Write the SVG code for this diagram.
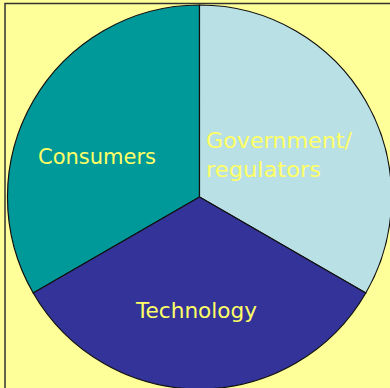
<svg xmlns="http://www.w3.org/2000/svg" width="390" height="388" viewBox="0 0 390 388">
<style>
.lbl{font-family:"Comic Sans MS","DejaVu Sans",sans-serif;font-size:21px;fill:#FFFF66}
.sec{stroke:#111;stroke-width:1.2;stroke-linejoin:round}
</style>
<rect x="0" y="0" width="390" height="388" fill="#FFFF99"/>
<rect x="5" y="3.5" width="400" height="400" fill="none" stroke="#333" stroke-width="1.5"/>
<g id="consumers">
<path class="sec" d="M199.5,197 L199.5,5 A192,192 0 0 0 33.2,293 Z" fill="#009999"/>
<text class="lbl" x="38" y="164" textLength="118" lengthAdjust="spacingAndGlyphs">Consumers</text>
</g>
<g id="government">
<path class="sec" d="M199.5,197 L199.5,5 A192,192 0 0 1 365.8,293 Z" fill="#B9E0E4"/>
<text class="lbl" x="206" y="148" textLength="146" lengthAdjust="spacingAndGlyphs">Government/</text>
<text class="lbl" x="206" y="177" textLength="115" lengthAdjust="spacingAndGlyphs">regulators</text>
</g>
<g id="technology">
<path class="sec" d="M199.5,197 L33.2,293 A192,192 0 0 0 365.8,293 Z" fill="#333399"/>
<text class="lbl" x="136" y="318" textLength="121" lengthAdjust="spacingAndGlyphs">Technology</text>
</g>
</svg>
